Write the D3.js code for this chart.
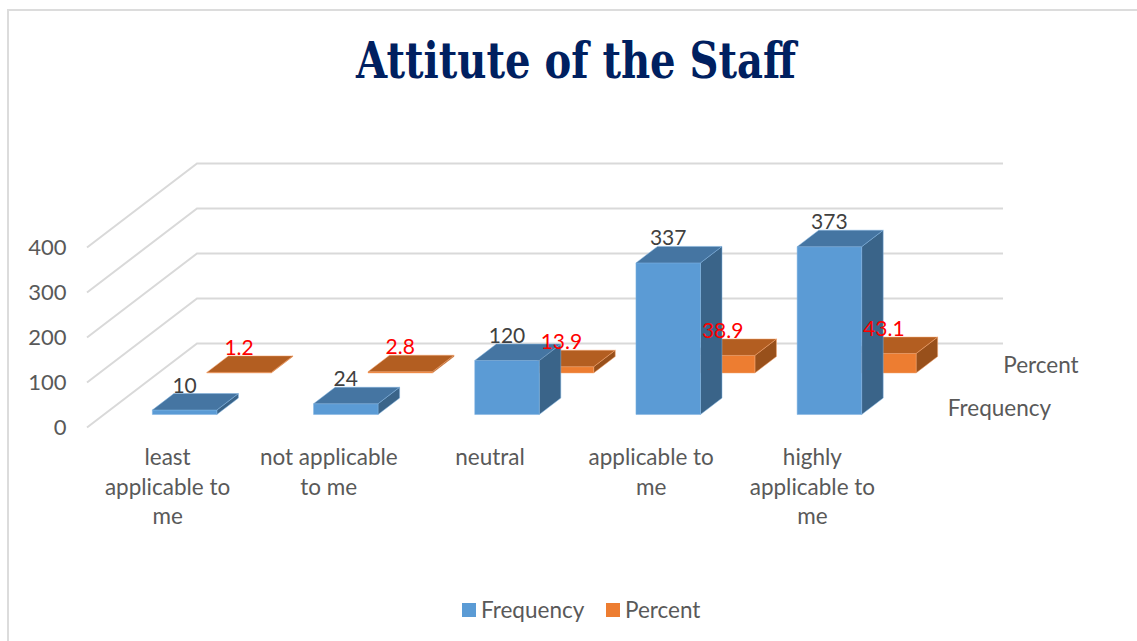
<!DOCTYPE html>
<html><head><meta charset="utf-8">
<script src="https://cdn.jsdelivr.net/npm/d3@7/dist/d3.min.js"></script>
<style>
html,body{margin:0;padding:0;background:#fff;overflow:hidden}
svg{display:block}
text{font-family:Lato,"Open Sans",sans-serif}
</style></head><body>
<svg id="c" width="1137" height="641"></svg>
<script>
const title = "Attitute of the Staff";
const categories = ["least applicable to me","not applicable to me","neutral","applicable to me","highly applicable to me"];
const categoryLines = [["least","applicable to","me"],["not applicable","to me"],["neutral"],["applicable to","me"],["highly","applicable to","me"]];
const seriesNames = ["Frequency","Percent"];
const frequency = [10,24,120,337,373];
const percent = [1.2,2.8,13.9,38.9,43.1];
const yTicks = [0,100,200,300,400];

const svg = d3.select("#c");
const palette = {
  Frequency:{front:"#5b9bd5",top:"#4575a2",side:"#3a6489",edge:"#7fb2e0",label:"#404040"},
  Percent:{front:"#ed7d31",top:"#b35e21",side:"#98501b",edge:"#f4a36c",label:"#ff0000"}
};
const x = d3.scaleBand().domain(categories).range([87,893]).paddingInner(0.6).paddingOuter(0.3);
const y = d3.scaleLinear().domain([0,400]).range([427.5,247.5]);
const depth = d3.scaleBand().domain(seriesNames).range([0,1]).paddingInner(0.604).paddingOuter(0.312);
const depthX = 110, depthY = 84;
const px = (xv,d)=>xv+d*depthX;
const py = (v,d)=>y(v)-d*depthY;

svg.append("path").attr("d","M8,641V10H1137").attr("fill","none").attr("stroke","#dcdcdc").attr("stroke-width",2);

svg.append("text").attr("x",576).attr("y",78).attr("text-anchor","middle")
  .attr("textLength",440).attr("lengthAdjust","spacingAndGlyphs")
  .style("font-family","'DejaVu Serif',serif").style("font-weight","bold").style("font-size","50px")
  .attr("fill","#002060").text(title);

svg.append("g").selectAll("path").data(yTicks).join("path")
  .attr("d",t=>`M${px(87,0)},${py(t,0)}L${px(87,1)},${py(t,1)}L${px(893,1)},${py(t,1)}`)
  .attr("fill","none").attr("stroke","#d9d9d9").attr("stroke-width",2);

const yAxis = svg.append("g").attr("transform","translate(71.5,0)")
  .call(d3.axisLeft(y).tickValues(yTicks).tickSize(0).tickPadding(5));
yAxis.select(".domain").remove();
yAxis.selectAll("text").style("font-size","22px").style("font-family","Lato,sans-serif").attr("fill","#595959");

function bar(g,v,cat,name){
  const c = palette[name], d0 = depth(name), d1 = d0+depth.bandwidth();
  const xa = x(cat), xb = xa+x.bandwidth();
  const P = (xv,val,d)=>[px(xv,d),py(val,d)].join(",");
  g.append("path").attr("d",`M${P(xb,0,d0)}L${P(xb,0,d1)}L${P(xb,v,d1)}L${P(xb,v,d0)}Z`).attr("fill",c.side).attr("stroke",c.edge).attr("stroke-width",.5);
  g.append("path").attr("d",`M${P(xa,0,d0)}L${P(xb,0,d0)}L${P(xb,v,d0)}L${P(xa,v,d0)}Z`).attr("fill",c.front).attr("stroke",c.edge).attr("stroke-width",.5);
  g.append("path").attr("d",`M${P(xa,v,d0)}L${P(xb,v,d0)}L${P(xb,v,d1)}L${P(xa,v,d1)}Z`).attr("fill",c.top).attr("stroke",c.edge).attr("stroke-width",.5);
}
const marks = svg.append("g");
const rows = [["Percent",percent],["Frequency",frequency]];
rows.forEach(([name,vals])=>{
  const g = marks.append("g").attr("class",name);
  categories.forEach((cat,i)=>bar(g,vals[i],cat,name));
});
rows.forEach(([name,vals])=>{
  svg.append("g").selectAll("text").data(vals).join("text")
    .attr("x",(v,i)=>px(x(categories[i])+x.bandwidth()/2,depth(name)))
    .attr("y",v=>py(v,depth(name)+depth.bandwidth())-1)
    .attr("text-anchor","middle").style("font-size","21px")
    .attr("fill",palette[name].label).text(v=>v);
});
categories.forEach((cat,i)=>{
  const t = svg.append("text").attr("text-anchor","middle").style("font-size","22.5px").attr("fill","#595959");
  categoryLines[i].forEach((l,j)=>t.append("tspan").attr("x",x(cat)+x.bandwidth()/2).attr("y",465+j*29.5).text(l));
});
svg.append("g").selectAll("text").data(seriesNames).join("text")
  .attr("x",n=>px(893,depth(n)+depth.bandwidth()/2)+ (n==="Frequency"?27:28))
  .attr("y",n=>py(0,depth(n))+ (n==="Frequency"?1:0.5))
  .style("font-size","22.5px").attr("fill","#595959").text(n=>n);
const lx = d3.scaleOrdinal().domain(seriesNames).range([462,606]);
const lg = svg.append("g").selectAll("g").data(seriesNames).join("g").attr("transform",n=>`translate(${lx(n)},603)`);
lg.append("rect").attr("width",14).attr("height",14).attr("fill",n=>palette[n].front);
lg.append("text").attr("x",19).attr("y",14.5).style("font-size","22.5px").attr("fill","#595959").text(n=>n);
</script>
</body></html>
